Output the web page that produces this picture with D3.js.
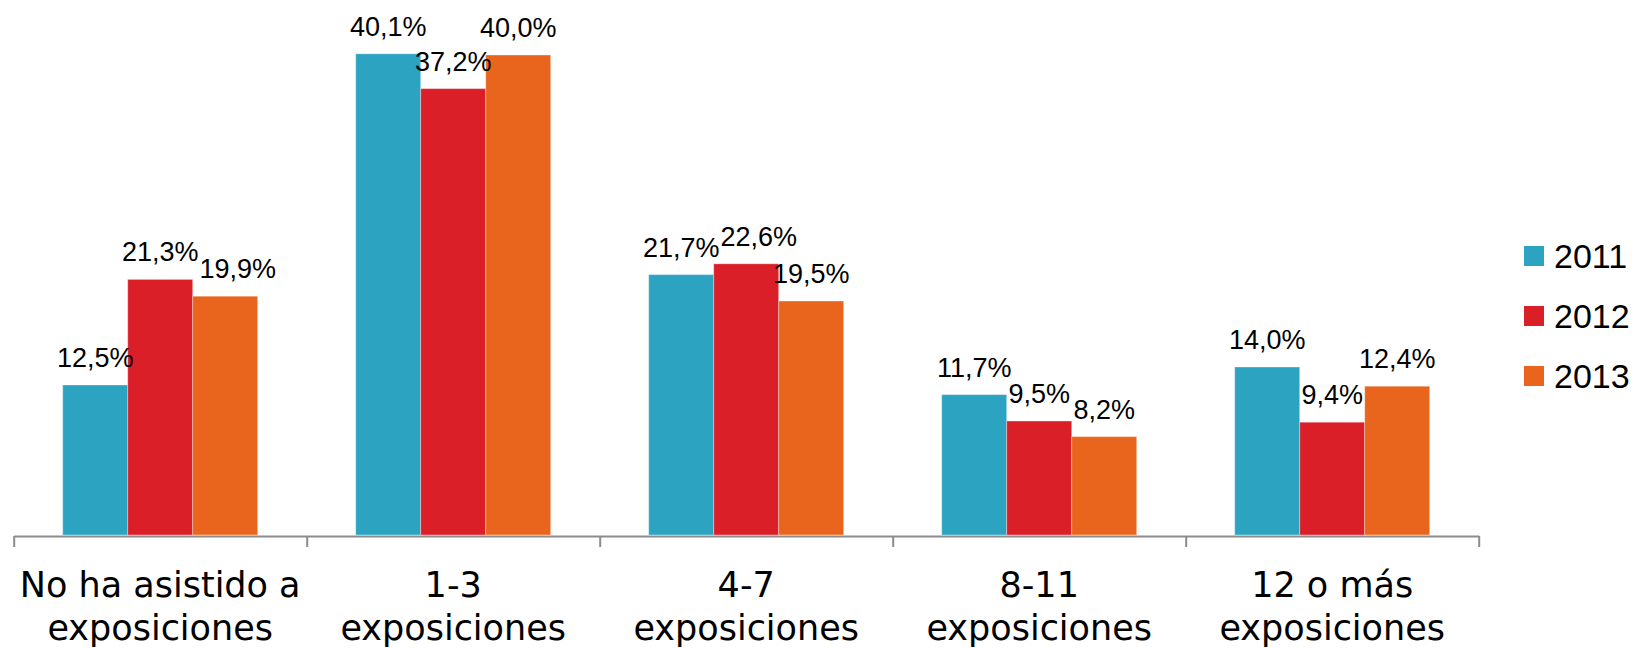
<!DOCTYPE html>
<html>
<head>
<meta charset="utf-8">
<script src="https://cdn.jsdelivr.net/npm/d3@7"></script>
<style>
  html, body { margin: 0; padding: 0; background: #ffffff; }
  svg { display: block; }
</style>
</head>
<body>
<svg id="chart" width="1651" height="648"></svg>
<script>
// ---- data ----
const categories = ["No ha asistido a\nexposiciones", "1-3\nexposiciones", "4-7\nexposiciones", "8-11\nexposiciones", "12 o más\nexposiciones"];
const seriesNames = ["2011", "2012", "2013"];
const values2011 = [12.5, 40.1, 21.7, 11.7, 14.0];
const values2012 = [21.3, 37.2, 22.6, 9.5, 9.4];
const values2013 = [19.9, 40.0, 19.5, 8.2, 12.4];
const seriesColors = ["#2CA3C0", "#DA1F29", "#E9651E"];

const seriesValues = [values2011, values2012, values2013];

// ---- layout ----
const W = 1651, H = 648;
const plot = { left: 13.7, right: 1478.7, top: 55, bottom: 535 };
const svg = d3.select("#chart");

const x = d3.scaleBand().domain(categories).range([plot.left, plot.right]).paddingInner(0).paddingOuter(0);
const x1 = d3.scaleBand().domain(seriesNames).range([0, x.bandwidth()]).paddingInner(0).paddingOuter(0.754);
const y = d3.scaleLinear().domain([0, 40]).range([plot.bottom, plot.top]);
const color = d3.scaleOrdinal().domain(seriesNames).range(seriesColors);

const locale = d3.formatLocale({ decimal: ",", thousands: ".", grouping: [3], currency: ["", "€"] });
const fmt = v => locale.format(".1f")(v) + "%";

// ---- bars ----
const rows = categories.map((c, i) => ({ cat: c, vals: seriesNames.map((s, j) => ({ s, v: seriesValues[j][i], cat: c })) }));

const groups = svg.append("g").selectAll("g").data(rows).join("g")
  .attr("transform", d => `translate(${x(d.cat)},0)`);

groups.selectAll("rect").data(d => d.vals).join("rect")
  .attr("x", d => x1(d.s))
  .attr("y", d => y(d.v))
  .attr("width", x1.bandwidth())
  .attr("height", d => y(0) - y(d.v))
  .attr("fill", d => color(d.s))
  .attr("stroke", "rgba(255,255,255,0.35)")
  .attr("stroke-width", 1);

// ---- axis ----
const edges = d3.range(categories.length + 1);
const xEdge = d3.scaleLinear().domain([0, categories.length]).range([plot.left, plot.right]);
const axis = svg.append("g")
  .attr("transform", `translate(0,${plot.bottom + 1})`)
  .call(d3.axisBottom(xEdge).tickValues(edges).tickSize(11).tickSizeOuter(0).tickFormat(""));
axis.select(".domain").attr("stroke", "#8C8C8C").attr("stroke-width", 2);
axis.selectAll(".tick line").attr("stroke", "#8C8C8C").attr("stroke-width", 2);

// category labels
const catLabels = svg.append("g")
  .attr("font-family", "'DejaVu Sans', sans-serif")
  .attr("font-size", 35)
  .attr("fill", "#000")
  .attr("text-anchor", "middle");
catLabels.selectAll("text").data(categories).join("text")
  .attr("x", d => x(d) + x.bandwidth() / 2)
  .attr("y", 597)
  .each(function(d) {
    const lines = d.split("\n");
    d3.select(this).selectAll("tspan").data(lines).join("tspan")
      .attr("x", x(d) + x.bandwidth() / 2)
      .attr("dy", (l, i) => i === 0 ? 0 : 43)
      .text(l => l);
  });

// ---- value labels with simple collision avoidance ----
const labelFont = 27;
const labelG = svg.append("g")
  .attr("font-family", "'Liberation Sans', Arial, sans-serif")
  .attr("font-size", labelFont)
  .attr("fill", "#000")
  .attr("text-anchor", "middle");

rows.forEach(row => {
  const placed = [];
  row.vals.forEach(d => {
    const cx = x(row.cat) + x1(d.s) + x1.bandwidth() / 2;
    const base = y(d.v) - 18;
    const t = labelG.append("text").attr("x", cx).attr("y", base).text(fmt(d.v));
    const w = t.node().getComputedTextLength();
    let box = { x0: cx - w / 2, x1: cx + w / 2, y0: base - labelFont * 0.74, y1: base + 2 };
    placed.forEach(p => {
      const overlapY = box.y0 < p.y1 && box.y1 > p.y0;
      const overlapX = box.x0 < p.x1 && box.x1 > p.x0;
      if (overlapX && overlapY) {
        const shift = p.x1 - box.x0 + 1;
        box.x0 += shift; box.x1 += shift;
      }
    });
    t.attr("x", (box.x0 + box.x1) / 2);
    placed.push(box);
  });
});

// ---- legend ----
const legend = svg.append("g")
  .attr("font-family", "'Liberation Sans', Arial, sans-serif")
  .attr("font-size", 34)
  .attr("fill", "#000");
const li = legend.selectAll("g").data(seriesNames).join("g")
  .attr("transform", (d, i) => `translate(1524,${246 + i * 60})`);
li.append("rect").attr("width", 20).attr("height", 20).attr("fill", d => color(d));
li.append("text").attr("x", 30).attr("y", 22).text(d => d);
</script>
</body>
</html>
